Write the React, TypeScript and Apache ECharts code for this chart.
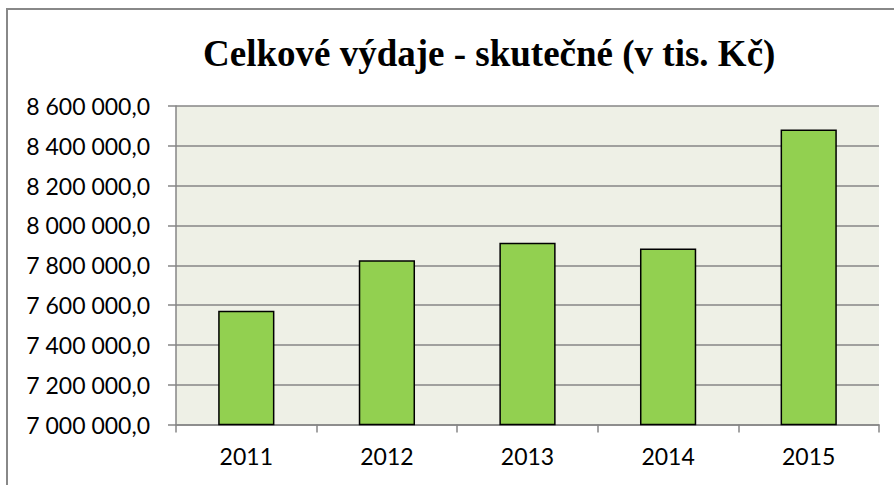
import React, { useEffect, useRef } from "react";
import * as echarts from "echarts";

const categories = ["2011", "2012", "2013", "2014", "2015"];
const values = [7572000, 7825000, 7913000, 7884000, 8482000];
const yMin = 7000000;
const yMax = 8600000;
const yStep = 200000;
const titleText = "Celkové výdaje - skutečné (v tis. Kč)";

function fmt(v: number): string {
  const s = Math.round(v).toString();
  const parts: string[] = [];
  for (let i = s.length; i > 0; i -= 3) parts.unshift(s.slice(Math.max(0, i - 3), i));
  return parts.join(" ") + ",0";
}

export default function App() {
  const ref = useRef<HTMLDivElement>(null);
  useEffect(() => {
    document.body.style.margin = "0";
    const chart = echarts.init(ref.current!, null, { renderer: "svg" });
    const labelFont = { fontFamily: "Lato", fontSize: 23, color: "#000" };
    chart.setOption({
      animation: false,
      backgroundColor: "#fff",
      title: {
        text: titleText,
        left: 203,
        top: 35,
        padding: 0,
        textStyle: {
          fontFamily: "Liberation Serif",
          fontWeight: "bold",
          fontSize: 37,
          color: "#000",
        },
      },
      graphic: [
        {
          type: "rect",
          shape: { x: 7, y: 9, width: 1200, height: 1200 },
          style: { fill: "none", stroke: "#888", lineWidth: 2 },
          silent: true,
        },
      ],
      grid: {
        left: 176,
        right: 15,
        top: 106,
        bottom: 60.4,
        show: true,
        backgroundColor: "#EEF0E6",
        borderWidth: 0,
      },
      xAxis: {
        type: "category",
        data: categories,
        axisLine: { show: true, lineStyle: { color: "#868686", width: 1.5 } },
        axisTick: { show: true, length: 8, lineStyle: { color: "#868686", width: 1.5 } },
        axisLabel: { ...labelFont, margin: 20 },
      },
      yAxis: {
        type: "value",
        min: yMin,
        max: yMax,
        interval: yStep,
        axisLine: { show: true, lineStyle: { color: "#868686", width: 1.5 } },
        axisTick: { show: true, length: 8, lineStyle: { color: "#868686", width: 1.5 } },
        splitLine: { show: true, lineStyle: { color: "#868686", width: 1.5 } },
        axisLabel: { ...labelFont, margin: 26, formatter: (v: number) => fmt(v) },
      },
      series: [
        {
          type: "bar",
          data: values,
          barWidth: "40%",
          itemStyle: { color: "#92D050", borderColor: "#000", borderWidth: 1.5 },
        },
      ],
    });
    return () => chart.dispose();
  }, []);
  return <div ref={ref} style={{ width: 894, height: 485 }} />;
}
